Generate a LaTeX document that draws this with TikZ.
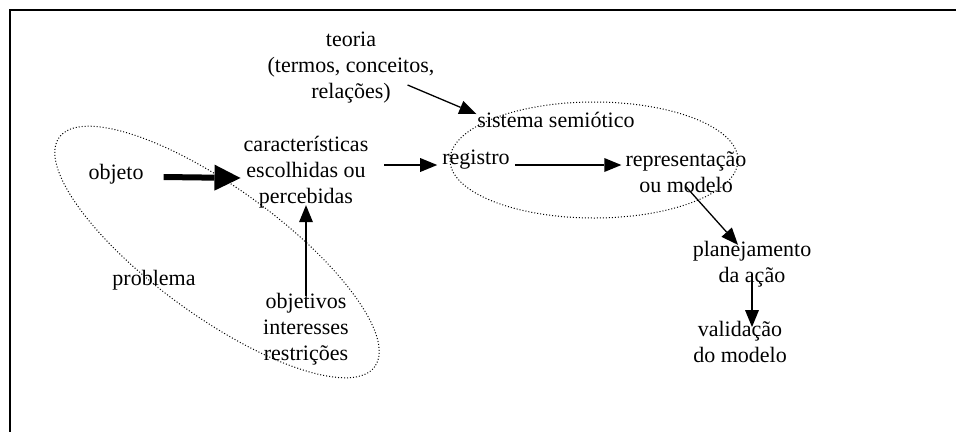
\documentclass[tikz,border=0pt]{standalone}
\usepackage{fontspec}
\setmainfont{Liberation Serif}
\usetikzlibrary{positioning,arrows.meta}
\tikzset{lbl/.style={inner sep=0pt, align=center, font=\fontsize{22}{26}\selectfont}}
\tikzset{arr/.style={draw, line width=1.3pt, -{Triangle[length=17pt,width=14pt,line width=0pt]}}}
\tikzset{bigarr/.style={draw, line width=6pt, -{Triangle[length=26pt,width=26pt,line width=0pt]}}}
\tikzset{grp/.style={draw, dotted, line width=1pt}}

\begin{document}
\begin{tikzpicture}[x=1pt, y=-1pt]
	\useasboundingbox (0,0) rectangle (956,432);
	\draw[line width=1.6pt] (956,10) -- (10,10) -- (10,432);

	\node[lbl] (teoria) at (351,68) {teoria\\(termos, conceitos,\\relações)};
	\node[lbl] (sistema) at (556,120) {sistema semiótico};
	\node[lbl] (registro) at (476,160) {registro};
	\node[lbl] (repres) at (686,172) {representação\\ou modelo};
	\node[lbl] (caract) at (306,172) {características\\escolhidas ou\\percebidas};
	\node[lbl] (objeto) at (116,174) {objeto};
	\node[lbl] (problema) at (154,280) {problema};
	\node[lbl] (objetivos) at (306,329) {objetivos\\interesses\\restrições};
	\node[lbl] (planej) at (752,264) {planejamento\\da ação};
	\node[lbl] (valid) at (740,342) {validação\\do modelo};

	% agrupamentos
	\draw[grp] (594,160) ellipse [x radius=144, y radius=58];
	\draw[grp, rotate around={-36:(217,252)}] (217,252) ellipse [x radius=195, y radius=64];

	\draw[arr] ([xshift=-27pt,yshift=-17pt]teoria.east) -- ([xshift=-1pt,yshift=6pt]sistema.west);
	\draw[bigarr] ([xshift=20pt,yshift=-3pt]objeto.east) -- ([xshift=-3pt,yshift=-6pt]caract.west);
	\draw[arr] ([xshift=16pt,yshift=7pt]caract.east) -- ([xshift=-5pt,yshift=-5pt]registro.west);
	\draw[arr] ([xshift=5pt,yshift=-5pt]registro.east) -- ([xshift=-4pt,yshift=7pt]repres.west);
	\draw[arr] ([yshift=-3pt]objetivos.north) -- ([yshift=3pt]caract.south);
	\draw[arr] ([yshift=6pt]repres.south) -- ([xshift=-14pt,yshift=-4pt]planej.north);
	\draw[arr] ([yshift=13pt]planej.south) -- ([xshift=12pt,yshift=-6pt]valid.north);
\end{tikzpicture}
\end{document}
